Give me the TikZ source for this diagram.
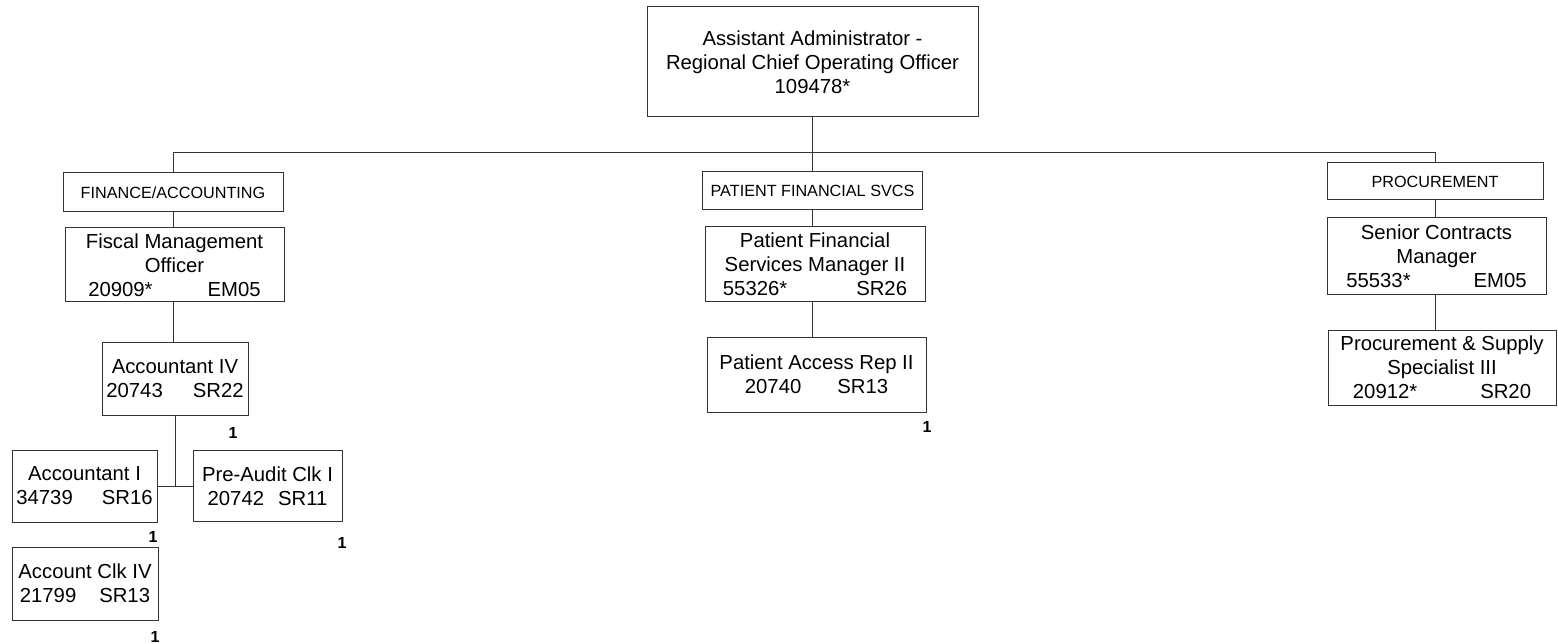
\documentclass[tikz,border=0pt]{standalone}
\usepackage{fontspec}
\setmainfont{Liberation Sans}
\newcommand{\grade}[3]{#1\hspace{#2pt}#3}

\begin{document}
\begin{tikzpicture}[
    x=1pt, y=-1pt,
    box/.style={draw=black!80, line width=1pt, align=center, inner sep=0pt, font=\fontsize{20.3}{24}\selectfont},
    dept/.style={draw=black!80, line width=1pt, align=center, inner sep=0pt, font=\fontsize{16.2}{19}\selectfont},
    tally/.style={inner sep=0pt, font=\fontsize{16}{18}\selectfont\bfseries},
    link/.style={draw=black!80, line width=1pt}
]
\fill[white] (0,0) rectangle (1558,644);
\useasboundingbox (0,0) rectangle (1558,644);
\coordinate (bus) at (0,153);

\node[box, minimum width=331pt, minimum height=110pt] (admin) at (812.5,62) {Assistant Administrator -\\Regional Chief Operating Officer\\109478*};

\node[dept, minimum width=220pt, minimum height=39pt] (finance) at (173,192.5) {FINANCE/ACCOUNTING};
\node[box, minimum width=219pt, minimum height=74pt] (fiscal) at (174.5,265) {Fiscal Management\\Officer\\\grade{20909*}{55}{EM05}};
\node[box, minimum width=146pt, minimum height=73pt] (acct4) at (175,378.5) {Accountant IV\\\grade{20743}{30}{SR22}};
\node[box, minimum width=145pt, minimum height=72pt] (acct1) at (84.5,486) {Accountant I\\\grade{34739}{29}{SR16}};
\node[box, minimum width=149pt, minimum height=71pt] (preaudit) at (267.5,486) {Pre-Audit Clk I\\\grade{20742}{14}{SR11}};
\node[box, minimum width=146pt, minimum height=73pt] (clk4) at (85,583.5) {Account Clk IV\\\grade{21799}{23}{SR13}};

\node[dept, minimum width=220pt, minimum height=38pt] (patient) at (812.5,191) {PATIENT FINANCIAL SVCS};
\node[box, minimum width=220pt, minimum height=75pt] (pfsmgr) at (815,264.5) {Patient Financial\\Services Manager II\\\grade{55326*}{69}{SR26}};
\node[box, minimum width=219pt, minimum height=75pt] (access) at (816.5,374.5) {Patient Access Rep II\\\grade{20740}{36}{SR13}};

\node[dept, minimum width=216pt, minimum height=37pt] (procure) at (1435,181.5) {PROCUREMENT};
\node[box, minimum width=219pt, minimum height=77pt] (contracts) at (1436.5,256.5) {Senior Contracts\\Manager\\\grade{55533*}{63}{EM05}};
\node[box, minimum width=228pt, minimum height=75pt] (supply) at (1442,367.5) {Procurement \& Supply\\Specialist III\\\grade{20912*}{63}{SR20}};

\node[tally] (t1) at (233,433) {1};
\node[tally] (t2) at (153,537) {1};
\node[tally] (t3) at (342,543) {1};
\node[tally] (t4) at (155,637) {1};
\node[tally] (t5) at (927,427) {1};

\draw[link] (admin.south) -- (admin.south |- bus) -| (finance.north);
\draw[link] (admin.south |- bus) -| (procure.north);
\draw[link] (admin.south) -- (patient.north);
\draw[link] (finance.south) -- (finance.south |- fiscal.north);
\draw[link] (finance.south |- fiscal.south) -- (finance.south |- acct4.north);
\draw[link] (acct4.south) -- (acct4.south |- acct1.east);
\draw[link] (acct1.east) -- (preaudit.west);
\draw[link] (patient.south) -- (patient.south |- pfsmgr.north);
\draw[link] (patient.south |- pfsmgr.south) -- (patient.south |- access.north);
\draw[link] (procure.south) -- (procure.south |- contracts.north);
\draw[link] (procure.south |- contracts.south) -- (procure.south |- supply.north);
\end{tikzpicture}
\end{document}
